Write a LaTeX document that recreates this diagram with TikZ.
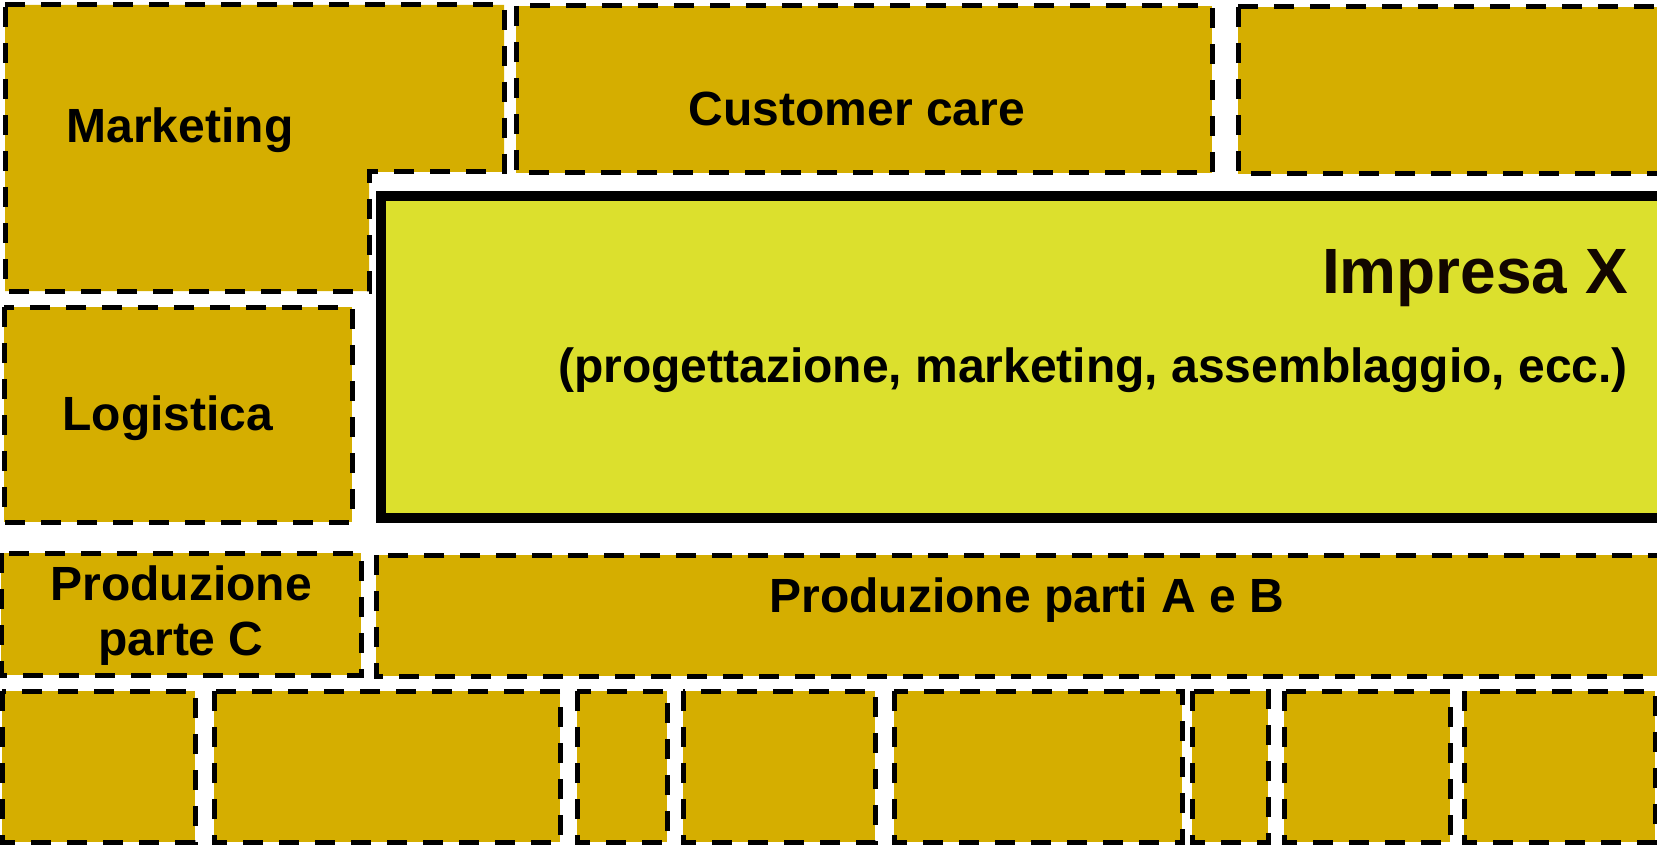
\documentclass[tikz,border=0pt]{standalone}
\usepackage{fontspec}
\setmainfont{Liberation Sans}
\definecolor{gold}{RGB}{213,174,0}
\definecolor{lime}{RGB}{220,224,45}
\definecolor{ink}{RGB}{18,6,0}
\begin{document}
\begin{tikzpicture}[x=1pt,y=-1pt,
  unit/.style={fill=gold,draw=black,line width=5pt,dash pattern=on 20pt off 16pt},
  main/.style={fill=lime,draw=black,line width=10pt},
  lbl/.style={anchor=base,inner sep=0pt,font=\fontsize{48}{55}\selectfont\bfseries,text=black},
  big/.style={anchor=base,inner sep=0pt,font=\fontsize{64}{72}\selectfont\bfseries,text=ink}]
\useasboundingbox (0,0) rectangle (1657,845);
\begin{scope}
\clip (0,0) rectangle (1657,845);
% top row
\path[unit] (5,5) -- (504,5) -- (504,172) -- (369,172) -- (369,291) -- (5,291) -- cycle;
\path[unit] (516,6) rectangle (1212,173);
\path[unit] (1238,7) rectangle (1675,174);
% central firm
\path[main] (381,196) rectangle (1680,518);
% left column
\path[unit] (4,307) rectangle (352,522);
% production row
\path[unit] (1,553) rectangle (361,675);
\path[unit] (376,555) rectangle (1675,676);
% bottom row
\path[unit] (2,691) rectangle (195,842);
\path[unit] (214,691) rectangle (560,842);
\path[unit] (577,691) rectangle (667,842);
\path[unit] (683,691) rectangle (875,842);
\path[unit] (894,691) rectangle (1182,842);
\path[unit] (1192,691) rectangle (1268,842);
\path[unit] (1284,691) rectangle (1450,842);
\path[unit] (1464,691) rectangle (1655,842);
\end{scope}
% labels
\node[lbl] (mkt) at (180,143) {Marketing};
\node[lbl] (cc) at (857,126) {Customer care};
\node[big] (imp) at (1475,293) {Impresa X};
\node[lbl] (sub) at (1093,382) {(progettazione, marketing, assemblaggio, ecc.)};
\node[lbl] (log) at (168,430) {Logistica};
\node[lbl] (pc1) at (181,600) {Produzione};
\node[lbl] (pc2) at (181,655) {parte C};
\node[lbl] (pab) at (1027,612) {Produzione parti A e B};
\end{tikzpicture}
\end{document}
